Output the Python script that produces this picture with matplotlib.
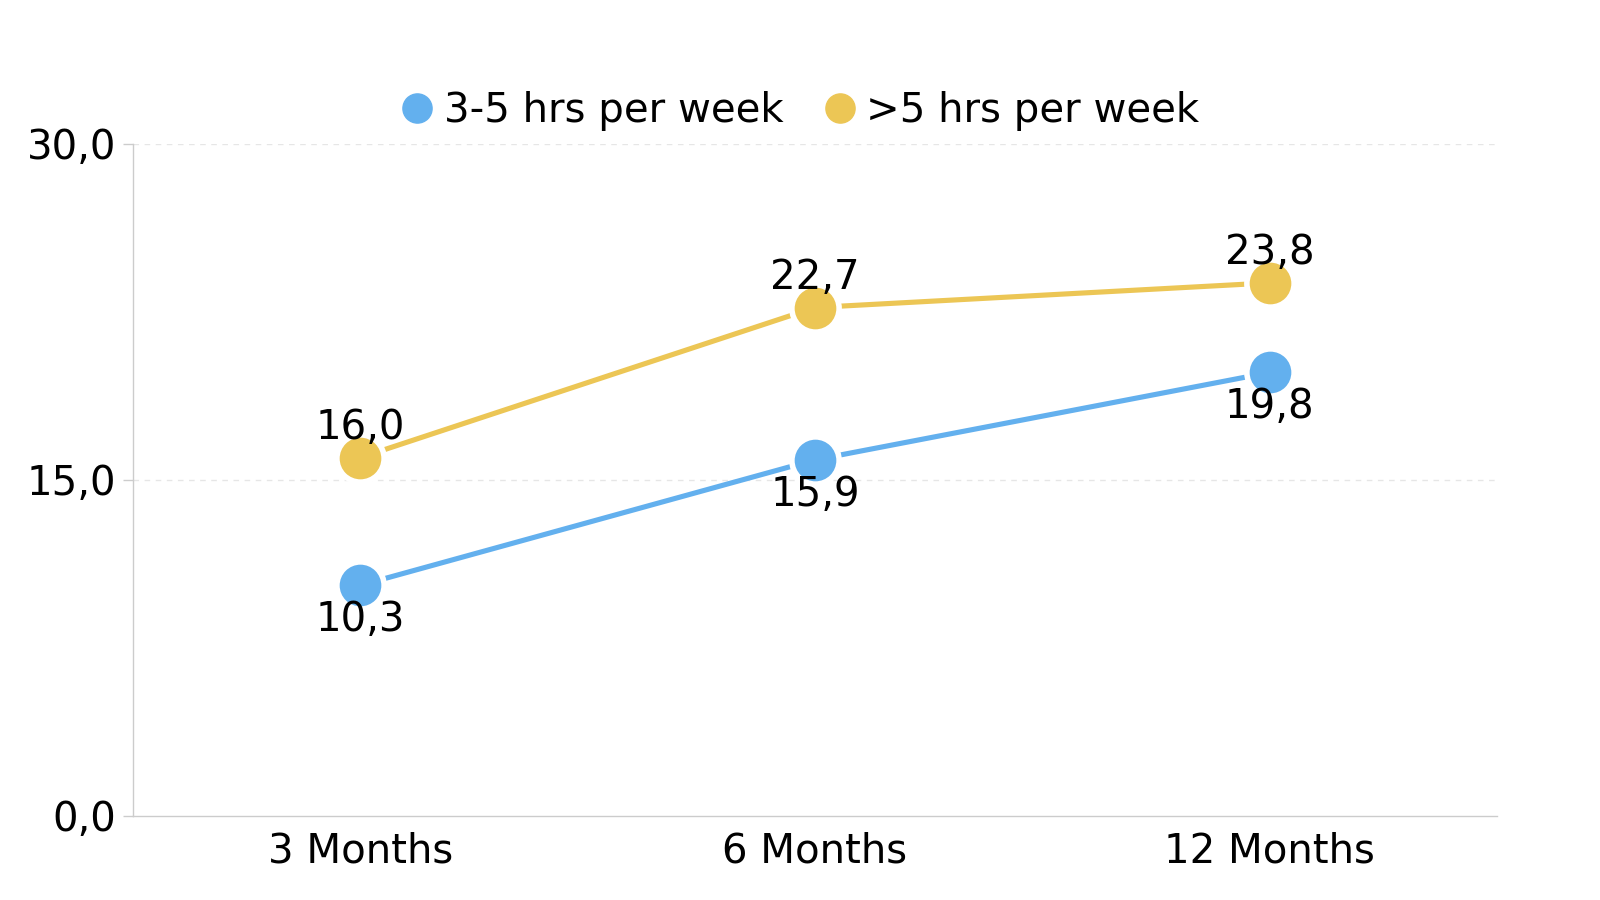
import matplotlib
matplotlib.use("Agg")
import matplotlib.pyplot as plt
from matplotlib.lines import Line2D

categories = ["3 Months", "6 Months", "12 Months"]
series_names = ["3-5 hrs per week", ">5 hrs per week"]
values_35 = [10.3, 15.9, 19.8]
values_5p = [16.0, 22.7, 23.8]
yticks = [0, 15, 30]
ytick_labels = ["0,0", "15,0", "30,0"]

blue = "#63b0ee"
yellow = "#ecc655"

plt.rcParams['font.family'] = ['DejaVu Sans']

fig = plt.figure(figsize=(16, 9), dpi=100)
L, R, T, B = 133, 1497, 144, 816
ax = fig.add_axes([L/1600, 1-B/900, (R-L)/1600, (B-T)/900])

x = list(range(len(categories)))
ax.plot(x, values_5p, color=yellow, lw=3.7, marker='o', ms=34,
        mfc=yellow, mec='white', mew=4, zorder=3, solid_capstyle='butt')
ax.plot(x, values_35, color=blue, lw=3.7, marker='o', ms=34,
        mfc=blue, mec='white', mew=4, zorder=3, solid_capstyle='butt')

FS = 29
for xi, v in zip(x, values_35):
    ax.annotate(f"{v:.1f}".replace('.', ','), (xi, v), xytext=(0, -25),
                textcoords='offset points', ha='center', va='center',
                fontsize=FS, color='black', zorder=5)
for xi, v in zip(x, values_5p):
    ax.annotate(f"{v:.1f}".replace('.', ','), (xi, v), xytext=(0, 21.5),
                textcoords='offset points', ha='center', va='center',
                fontsize=FS, color='black', zorder=5)

ax.set_xlim(-0.5, 2.5)
ax.set_ylim(0, 30)
ax.set_xticks(x)
ax.set_xticklabels(categories, fontsize=FS)
ax.set_yticks(yticks)
ax.set_yticklabels(ytick_labels, fontsize=FS)
ax.tick_params(axis='x', length=0, pad=11)
ax.tick_params(axis='y', length=7, color='#cccccc', width=1, pad=5)

for yv in [15, 30]:
    ax.axhline(yv, color='#e6e6e6', lw=1, ls=(0, (4, 4)), zorder=1)

for s in ['top', 'right']:
    ax.spines[s].set_visible(False)
ax.spines['left'].set_color('#cccccc')
ax.spines['bottom'].set_color('#cccccc')
ax.spines['left'].set_linewidth(1)
ax.spines['bottom'].set_linewidth(1)

handles = [Line2D([0], [0], marker='o', color='none', mfc=blue, mec=blue, ms=21),
           Line2D([0], [0], marker='o', color='none', mfc=yellow, mec=yellow, ms=21)]
fig.legend(handles, series_names, loc='center', bbox_to_anchor=(798/1600, 1-111/900),
           ncol=2, frameon=False, fontsize=FS, handletextpad=0.15, columnspacing=0.9,
           handlelength=1.0)

fig.savefig("out.png", dpi=100, facecolor='white')
